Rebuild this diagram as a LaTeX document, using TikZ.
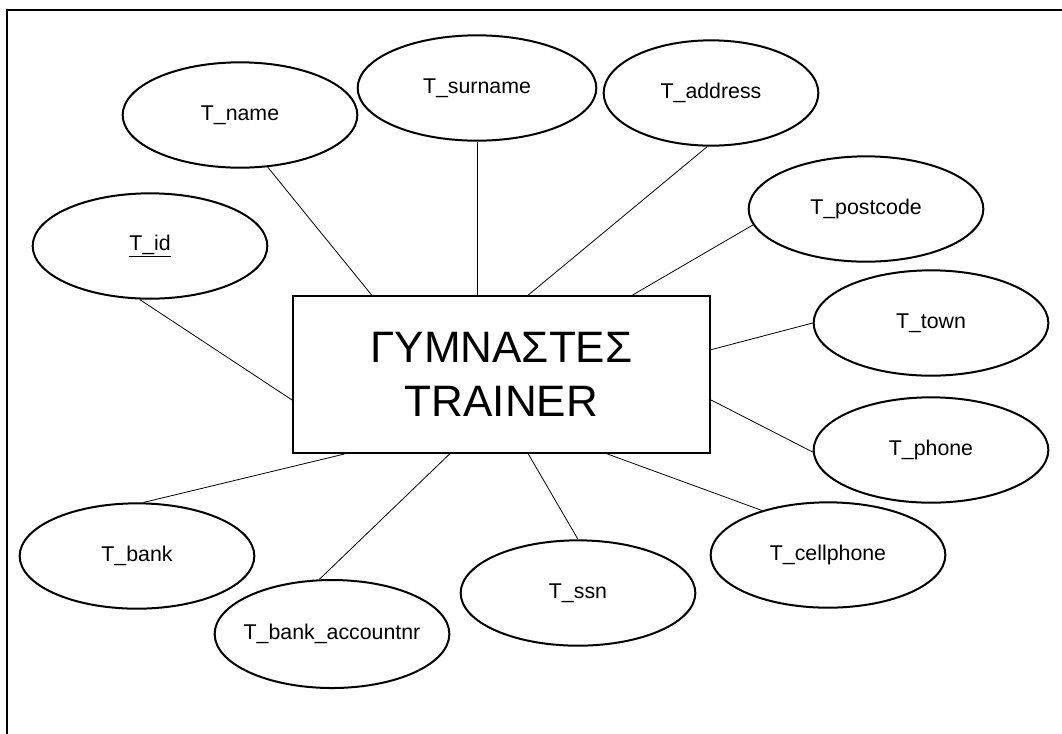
\documentclass[tikz,border=0pt]{standalone}
\usepackage{fontspec}
\setmainfont{Liberation Sans}
\usetikzlibrary{shapes.geometric,calc}
\tikzset{
  attr/.style={ellipse,draw,line width=1.5pt,inner sep=0pt,
    minimum width=176pt,minimum height=79pt,font=\fontsize{16}{19}\selectfont},
  entity/.style={rectangle,draw,line width=1.5pt,inner sep=0pt,
    minimum width=312.75pt,minimum height=117.75pt,align=center,
    font=\fontsize{33}{40}\selectfont},
  link/.style={line width=0.6pt},
  frame/.style={line width=1.8pt}
}
\begin{document}
\begin{tikzpicture}[x=0.75pt,y=-0.75pt]
  \useasboundingbox (0,0) rectangle (1062,733);
  % open frame: top and left edges
  \coordinate (fbl) at (7,735);
  \coordinate (ftl) at (7,10);
  \coordinate (ftr) at (1064,10);
  \draw[frame] (fbl) -- (ftl) -- (ftr);

  % entity
  \node[entity] (main) at (501.5,374.5) {ΓΥΜΝΑΣΤΕΣ\\TRAINER};

  % attributes
  \node[attr] (name)     at (240,115) {T\_name};
  \node[attr,minimum width=179pt] (surname)  at (477,88) {T\_surname};
  \node[attr,minimum width=161pt] (address)  at (711,93) {T\_address};
  \node[attr] (postcode) at (866,209) {T\_postcode};
  \node[attr] (id)       at (150,246) {\underline{T\_id}};
  \node[attr] (town)     at (931,323) {T\_town};
  \node[attr] (phone)    at (931,450) {T\_phone};
  \node[attr] (cell)     at (828,555) {T\_cellphone};
  \node[attr] (ssn)      at (578,593) {T\_ssn};
  \node[attr,minimum height=81pt,inner xsep=-8pt] (account)  at (332,634) {T\_bank\_accountnr};
  \node[attr] (bank)     at (137,556) {T\_bank};

  % connectors
  \draw[link] ($(main.north west)!0.19!(main.north east)$) -- (name.-62);
  \draw[link] (surname.south) -- (surname.south |- main.north);
  \draw[link] ($(main.north west)!0.564!(main.north east)$) -- (address.-94);
  \draw[link] ($(main.north west)!0.813!(main.north east)$) -- (postcode.188);
  \draw[link] ($(main.north west)!0.66!(main.south west)$) -- (id.-101);
  \draw[link] ($(main.north east)!0.344!(main.south east)$) -- (town.west);
  \draw[link] ($(main.north east)!0.66!(main.south east)$) -- (phone.181);
  \draw[link] ($(main.south west)!0.753!(main.south east)$) -- (cell.146);
  \draw[link] ($(main.south west)!0.564!(main.south east)$) -- (ssn.north);
  \draw[link] ($(main.south west)!0.376!(main.south east)$) -- (account.103);
  \draw[link] ($(main.south west)!0.125!(main.south east)$) -- (bank.83);
\end{tikzpicture}
\end{document}
